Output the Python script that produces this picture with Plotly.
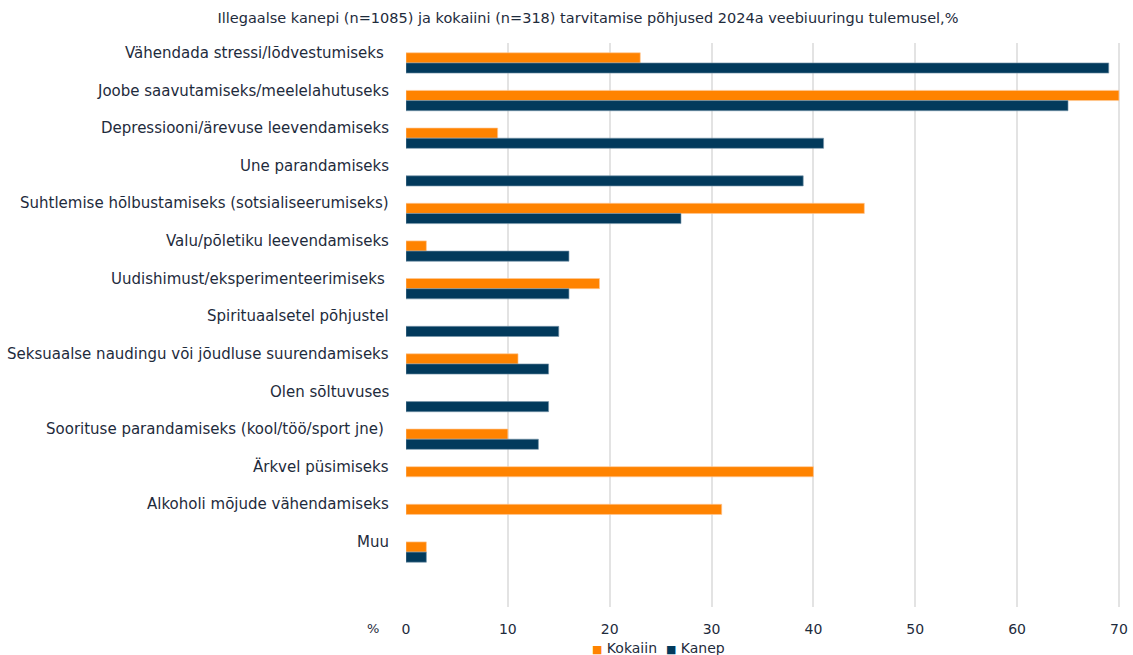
import plotly.graph_objects as go

categories = [
    "Vähendada stressi/lõdvestumiseks ",
    "Joobe saavutamiseks/meelelahutuseks",
    "Depressiooni/ärevuse leevendamiseks",
    "Une parandamiseks",
    "Suhtlemise hõlbustamiseks (sotsialiseerumiseks)",
    "Valu/põletiku leevendamiseks",
    "Uudishimust/eksperimenteerimiseks ",
    "Spirituaalsetel põhjustel",
    "Seksuaalse naudingu või jõudluse suurendamiseks",
    "Olen sõltuvuses",
    "Soorituse parandamiseks (kool/töö/sport jne) ",
    "Ärkvel püsimiseks",
    "Alkoholi mõjude vähendamiseks",
    "Muu",
]

kokaiin = [23, 70, 9, None, 45, 2, 19, None, 11, None, 10, 40, 31, 2]
kanep = [69, 65, 41, 39, 27, 16, 16, 15, 14, 14, 13, None, None, 2]

series_names = ["Kokaiin", "Kanep"]
title = "Illegaalse kanepi (n=1085) ja kokaiini (n=318) tarvitamise põhjused 2024a veebiuuringu tulemusel,%"
x_ticks = [0, 10, 20, 30, 40, 50, 60, 70]

ORANGE = "#FF8300"
NAVY = "#023A5C"
TEXT = "#1E2B3C"
FONT = "DejaVu Sans"

fig = go.Figure()
fig.add_trace(go.Bar(
    name=series_names[0], y=categories, x=kokaiin, orientation="h",
    marker=dict(color=ORANGE, line=dict(color="rgba(255,200,150,0.8)", width=0.8)),
))
fig.add_trace(go.Bar(
    name=series_names[1], y=categories, x=kanep, orientation="h",
    marker=dict(color=NAVY, line=dict(color="rgba(120,150,170,0.8)", width=0.8)),
))

# category labels, placed slightly above each bar group as in the reference
for c in categories:
    fig.add_annotation(
        x=0, xref="paper", xanchor="right", xshift=-15,
        y=c, yref="y", yshift=10, yanchor="middle",
        text=c, showarrow=False, font=dict(family=FONT, size=15, color=TEXT),
    )

# "%" unit label left of the 0 tick
fig.add_annotation(
    x=(373 - 406) / 716, xref="paper", y=-(628 - 607) / 564, yref="paper",
    xanchor="center", yanchor="middle",
    text="%", showarrow=False, font=dict(family=FONT, size=13, color=TEXT),
)

# compact legend line (real text) matching the reference's tight legend
legend_text = (
    f"<span style='color:{ORANGE};font-size:11px'>■</span> {series_names[0]}  "
    f"<span style='color:{NAVY};font-size:11px'>■</span> {series_names[1]}"
)
fig.add_annotation(
    x=(658 - 406) / 716, xref="paper", y=-(648 - 607) / 564, yref="paper",
    xanchor="center", yanchor="middle", showarrow=False, text=legend_text,
    font=dict(family=FONT, size=14, color=TEXT),
)

fig.update_layout(
    width=1133, height=655,
    margin=dict(l=406, r=11, t=43, b=48, autoexpand=False),
    paper_bgcolor="white", plot_bgcolor="white",
    barmode="group", bargap=0.46, bargroupgap=0,
    font=dict(family=FONT, size=14, color=TEXT),
    title=dict(text=title, x=588 / 1133, xanchor="center", y=1 - 18 / 655, yanchor="middle",
               font=dict(family=FONT, size=14.5, color=TEXT)),
    showlegend=False,
)
fig.update_xaxes(
    range=[0, 70.3], tickvals=x_ticks, showgrid=True, gridcolor="#E3E3E3", gridwidth=1.5,
    zeroline=False, showline=False, ticks="", ticklabelstandoff=12, automargin=False,
    tickfont=dict(family=FONT, size=14, color=TEXT),
)
fig.update_yaxes(
    type="category", categoryorder="array", categoryarray=categories, automargin=False,
    range=[14.46, -0.53], showticklabels=False, showgrid=False, zeroline=False, showline=False,
)

fig.write_html("out.html", config={"displayModeBar": False},
               post_script="document.body.style.margin='0';")
